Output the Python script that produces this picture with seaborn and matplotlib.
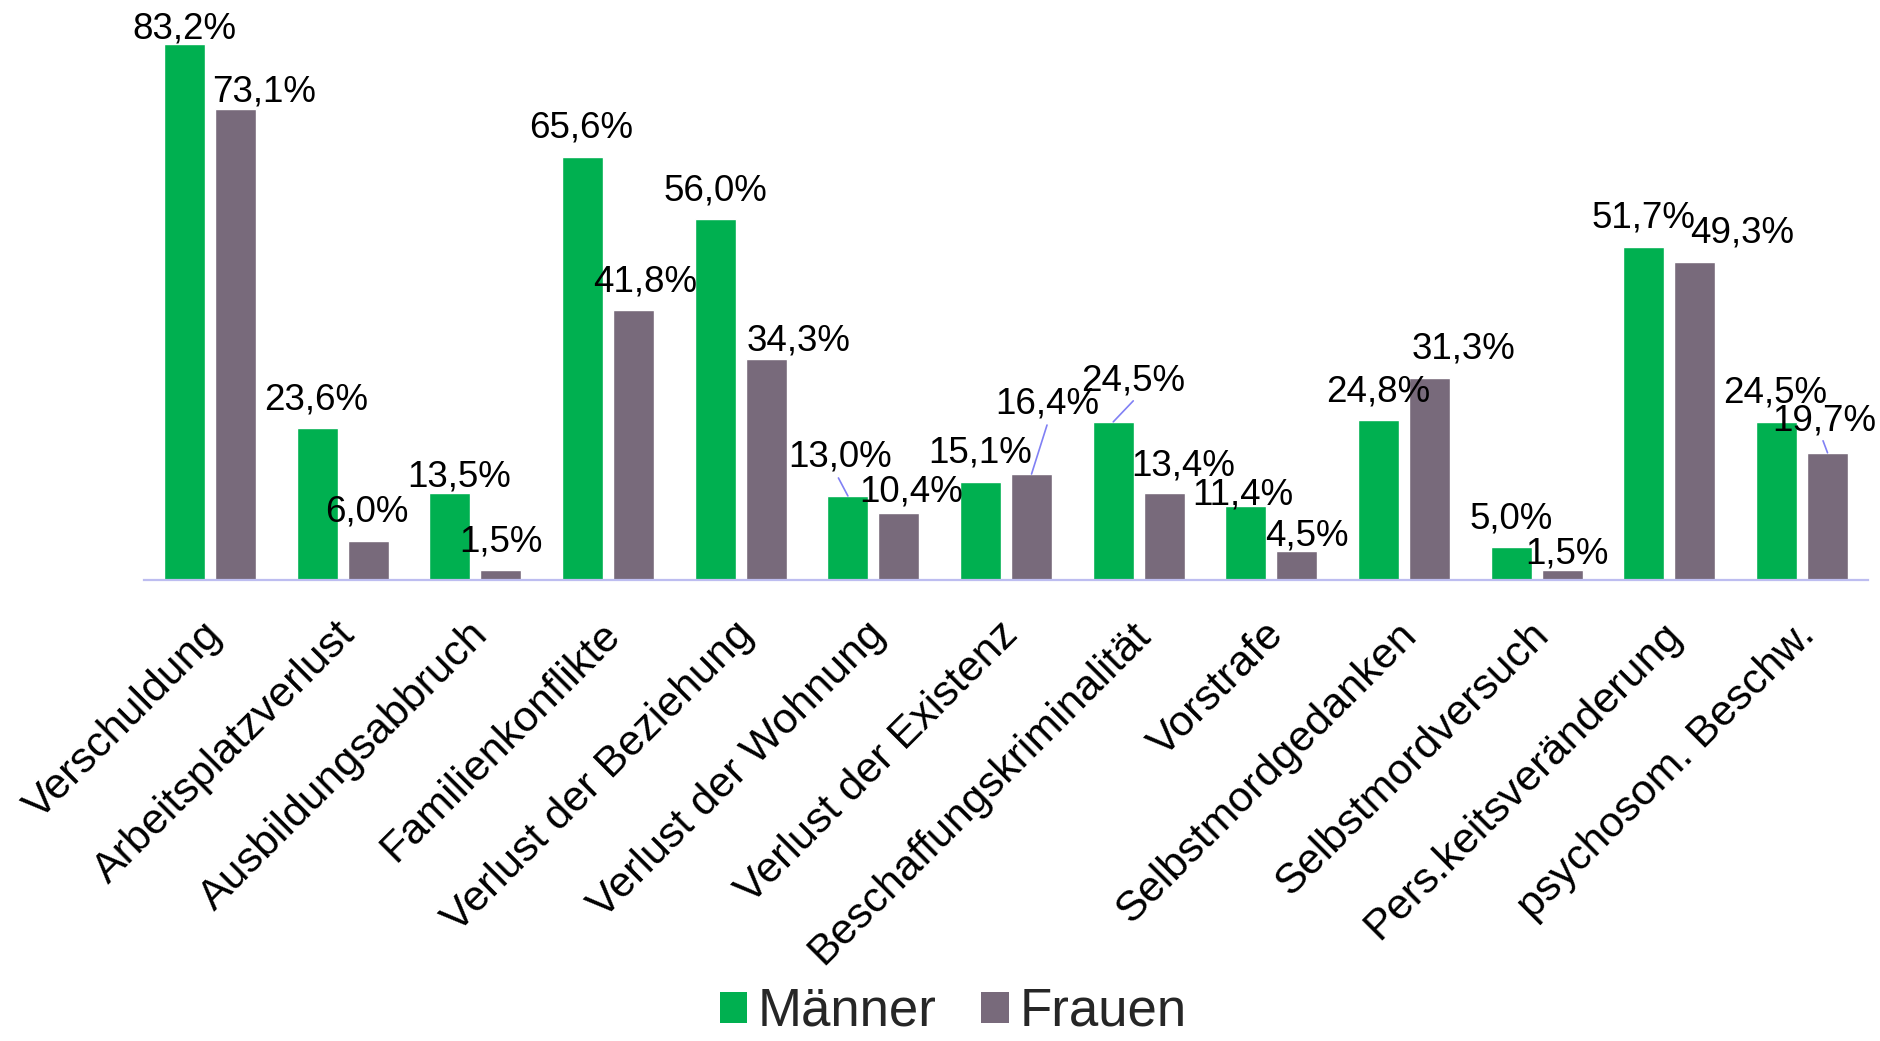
import matplotlib
matplotlib.use("Agg")
import numpy as np
import pandas as pd
import matplotlib.pyplot as plt
import matplotlib.transforms as mtransforms
from matplotlib.patches import Patch
import seaborn as sns

# ---------------- data ----------------
categories = ["Verschuldung", "Arbeitsplatzverlust", "Ausbildungsabbruch", "Familienkonflikte",
              "Verlust der Beziehung", "Verlust der Wohnung", "Verlust der Existenz",
              "Beschaffungskriminalität", "Vorstrafe", "Selbstmordgedanken",
              "Selbstmordversuch", "Pers.keitsveränderung", "psychosom. Beschw."]
maenner = [83.2, 23.6, 13.5, 65.6, 56.0, 13.0, 15.1, 24.5, 11.4, 24.8, 5.0, 51.7, 24.5]
frauen = [73.1, 6.0, 1.5, 41.8, 34.3, 10.4, 16.4, 13.4, 4.5, 31.3, 1.5, 49.3, 19.7]
series = ["Männer", "Frauen"]

# ---------------- styling / label placement ----------------
GREEN = "#00B050"
GREY = "#786A7B"
LEADER = "#8080F4"
AXISCOL = "#BDBDF0"

# pixel offsets of the label centre relative to the bar-top centre
off_m = [(0, 19), (-1, 32), (9, 20), (-1, 33), (0, 32), (-8, 43), (0, 33),
         (20, 45), (-3, 15), (0, 32), (0, 32), (0, 33), (-1, 33)]
off_f = [(29, 21), (-1, 33), (0, 32), (12, 32), (32, 22), (12, 25), (16, 74),
         (19, 31), (10, 19), (34, 33), (5, 20), (47, 33), (-3, 36)]
# leader-line start points (pixel offsets from bar-top centre)
leader_m = {5: (-9.5, 18), 7: (20, 21)}
leader_f = {6: (15.5, 49), 12: (-4.5, 12)}

sns.set_theme(style="white")
plt.rcParams["font.family"] = ["Liberation Sans", "DejaVu Sans"]

W, H = 1881, 1041
fig = plt.figure(figsize=(W / 100, H / 100), dpi=100)
base_y = 579.7
ax = fig.add_axes([143.7 / W, (H - base_y) / H, 1724.7 / W, 579.8 / H])

df = pd.DataFrame({
    "Kategorie": categories * 2,
    "Wert": maenner + frauen,
    "Geschlecht": [series[0]] * len(categories) + [series[1]] * len(categories),
})
sns.barplot(data=df, x="Kategorie", y="Wert", hue="Geschlecht", hue_order=series,
            palette=[GREEN, GREY], width=0.768, gap=0.195, saturation=1,
            errorbar=None, legend=False, ax=ax)
ax.set_xlim(-0.5, len(categories) - 0.5)
ax.set_ylim(0, 90)

for cont, vals, offs, leaders in [(ax.containers[0], maenner, off_m, leader_m),
                                  (ax.containers[1], frauen, off_f, leader_f)]:
    for i, (bar, v) in enumerate(zip(cont, vals)):
        x = bar.get_x() + bar.get_width() / 2
        y = bar.get_height()
        dx, dy = offs[i]
        ax.annotate(f"{v:.1f}".replace(".", ",") + "%", xy=(x, y), xytext=(dx, dy),
                    textcoords="offset pixels", ha="center", va="center_baseline",
                    fontsize=26.5, color="black", annotation_clip=False)
        if i in leaders:
            lx, ly = leaders[i]
            ax.annotate("", xy=(x, y), xytext=(lx, ly), textcoords="offset pixels",
                        arrowprops=dict(arrowstyle="-", color=LEADER, lw=1.2,
                                        shrinkA=0, shrinkB=0),
                        annotation_clip=False)

for s in ["left", "top", "right"]:
    ax.spines[s].set_visible(False)
ax.spines["bottom"].set_color(AXISCOL)
ax.spines["bottom"].set_linewidth(1.6)
ax.set_yticks([])
ax.set_xlabel("")
ax.set_ylabel("")
ax.tick_params(axis="x", length=0, pad=0)
ax.set_xticks(range(len(categories)))
ax.set_xticklabels(categories, rotation=45, ha="right", va="baseline",
                   rotation_mode="anchor", fontsize=31, color="black")
offset = mtransforms.ScaledTranslation(14 / 100, -57 / 100, fig.dpi_scale_trans)
for lbl in ax.get_xticklabels():
    lbl.set_transform(lbl.get_transform() + offset)

handles = [Patch(facecolor=GREEN, edgecolor="none", label=series[0]),
           Patch(facecolor=GREY, edgecolor="none", label=series[1])]
fig.legend(handles=handles, loc="center", bbox_to_anchor=(953 / W, 1 - 1012 / H),
           ncol=2, frameon=False, fontsize=38, handlelength=0.52, handleheight=0.52,
           handletextpad=0.2, columnspacing=0.85, borderpad=0, borderaxespad=0)

fig.savefig("out.png", dpi=100)
